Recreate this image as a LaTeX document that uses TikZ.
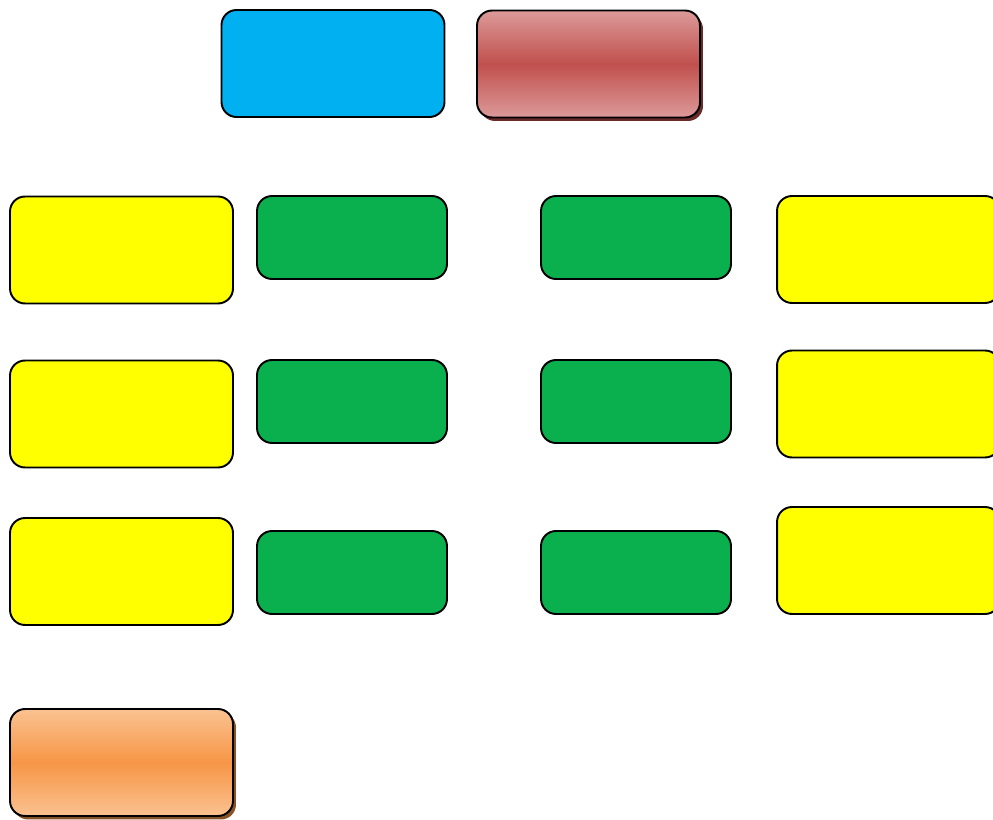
\documentclass[tikz,border=0pt]{standalone}
\usepackage{tikz}
\usetikzlibrary{shadows}

\definecolor{boxblue}{HTML}{00B0F0}
\definecolor{boxred}{HTML}{C0504D}
\definecolor{boxredlight}{HTML}{DC9A99}
\definecolor{boxgreen}{HTML}{0AB04E}
\definecolor{boxyellow}{HTML}{FFFF00}
\definecolor{boxorange}{HTML}{F79646}
\definecolor{boxorangelight}{HTML}{FAC291}

\tikzset{
  box/.style={draw=black,line width=1.1pt,rounded corners=0.3cm,inner sep=0pt,
    minimum width=4.46cm,minimum height=2.14cm},
  wide/.style={box,fill=boxyellow},
  small/.style={box,fill=boxgreen,minimum width=3.8cm,minimum height=1.66cm},
  glossy/.style={box,general shadow={shadow xshift=0.06cm,shadow yshift=-0.07cm,fill=#1!55!black}}
}

\begin{document}
\begin{tikzpicture}[x=0.02cm,y=-0.02cm]
\useasboundingbox (0,0) rectangle (993,820);
\clip (0,0) rectangle (993,820);

% top row
\node[box,fill=boxblue] (head) at (333,63.5) {};
\node[glossy=boxred,top color=boxredlight,bottom color=boxredlight,middle color=boxred] (title) at (588.5,64) {};

% three rows of boxes
\node[wide] (l1) at (121.5,250) {};
\node[wide] (l2) at (121.5,414) {};
\node[wide] (l3) at (121.5,571.5) {};
\foreach \y [count=\i] in {237.5,401.5,572.5} {
  \node[small] (ga\i) at (352,\y) {};
  \node[small] (gb\i) at (636,\y) {};
}
\node[wide] (r1) at (888.5,249.5) {};
\node[wide] (r2) at (888.5,404) {};
\node[wide] (r3) at (888.5,560.5) {};

% bottom
\node[glossy=boxorange,top color=boxorangelight,bottom color=boxorangelight,middle color=boxorange] (foot) at (121.5,762.5) {};
\end{tikzpicture}
\end{document}
